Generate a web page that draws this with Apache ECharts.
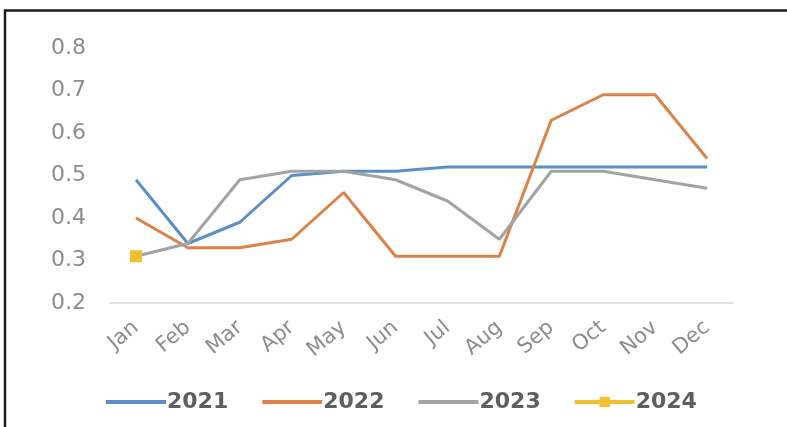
<!DOCTYPE html>
<html>
<head>
<meta charset="utf-8">
<script src="https://cdn.jsdelivr.net/npm/echarts@6/dist/echarts.min.js"></script>
<style>
  html, body { margin: 0; padding: 0; background: #ffffff; }
  #chart { width: 787px; height: 427px; }
</style>
</head>
<body>
<div id="chart"></div>
<script>
// Monthly values per year
const months = ['Jan', 'Feb', 'Mar', 'Apr', 'May', 'Jun', 'Jul', 'Aug', 'Sep', 'Oct', 'Nov', 'Dec'];
const values2021 = [0.49, 0.34, 0.39, 0.50, 0.51, 0.51, 0.52, 0.52, 0.52, 0.52, 0.52, 0.52];
const values2022 = [0.40, 0.33, 0.33, 0.35, 0.46, 0.31, 0.31, 0.31, 0.63, 0.69, 0.69, 0.54];
const values2023 = [0.31, 0.34, 0.49, 0.51, 0.51, 0.49, 0.44, 0.35, 0.51, 0.51, 0.49, 0.47];
const values2024 = [0.31];
const yearNames = ['2021', '2022', '2023', '2024'];
const colors = ['#5b8fc7', '#dd8147', '#a3a3a3', '#f0c030'];

const chart = echarts.init(document.getElementById('chart'));
const font = 'DejaVu Sans';

function lineSeries(name, data, color, withMarker) {
  return {
    name: name,
    type: 'line',
    data: data,
    symbol: withMarker ? 'rect' : 'none',
    symbolSize: 12,
    showSymbol: withMarker,
    lineStyle: { width: 3, color: color },
    itemStyle: { color: color },
    emphasis: { disabled: true },
    animation: false
  };
}

// Legend entries: plain lines for 2021–2023, line with a square marker for 2024
const legendData = yearNames.map((name, i) => (
  i < 3
    ? { name: name, itemStyle: { opacity: 0 }, lineStyle: { width: 4, color: colors[i] } }
    : { name: name, lineStyle: { width: 4, color: colors[i] } }
));

chart.setOption({
  backgroundColor: '#ffffff',
  animation: false,
  grid: { left: 110, right: 54, top: 48, bottom: 124 },
  legend: {
    data: legendData,
    left: 99,
    top: 386,
    itemWidth: 60,
    itemHeight: 13,
    itemGap: 32,
    textStyle: { fontFamily: font, fontSize: 22, fontWeight: 'bold', color: '#5e5e5e', padding: [0, 0, 0, -4] }
  },
  xAxis: {
    type: 'category',
    data: months,
    boundaryGap: true,
    axisLine: { show: true, lineStyle: { color: '#d9d9d9', width: 1.5 } },
    axisTick: { show: false },
    axisLabel: {
      rotate: 40,
      margin: 22,
      interval: 0,
      fontFamily: font,
      fontSize: 21,
      color: '#8c8c8c'
    },
    splitLine: { show: false }
  },
  yAxis: {
    type: 'value',
    min: 0.2,
    max: 0.8,
    interval: 0.1,
    axisLine: { show: false },
    axisTick: { show: false },
    splitLine: { show: false },
    axisLabel: {
      margin: 24,
      fontFamily: font,
      fontSize: 22,
      color: '#8c8c8c',
      formatter: v => v.toFixed(1)
    }
  },
  graphic: [
    { type: 'line', shape: { x1: 5, y1: 10, x2: 5, y2: 427 }, style: { stroke: '#1a1a1a', lineWidth: 2.5 } },
    { type: 'line', shape: { x1: 4, y1: 10.5, x2: 787, y2: 10.5 }, style: { stroke: '#1a1a1a', lineWidth: 2.5 } }
  ],
  series: [
    lineSeries(yearNames[0], values2021, colors[0], false),
    lineSeries(yearNames[1], values2022, colors[1], false),
    lineSeries(yearNames[2], values2023, colors[2], false),
    lineSeries(yearNames[3], values2024, colors[3], true)
  ]
});
</script>
</body>
</html>
